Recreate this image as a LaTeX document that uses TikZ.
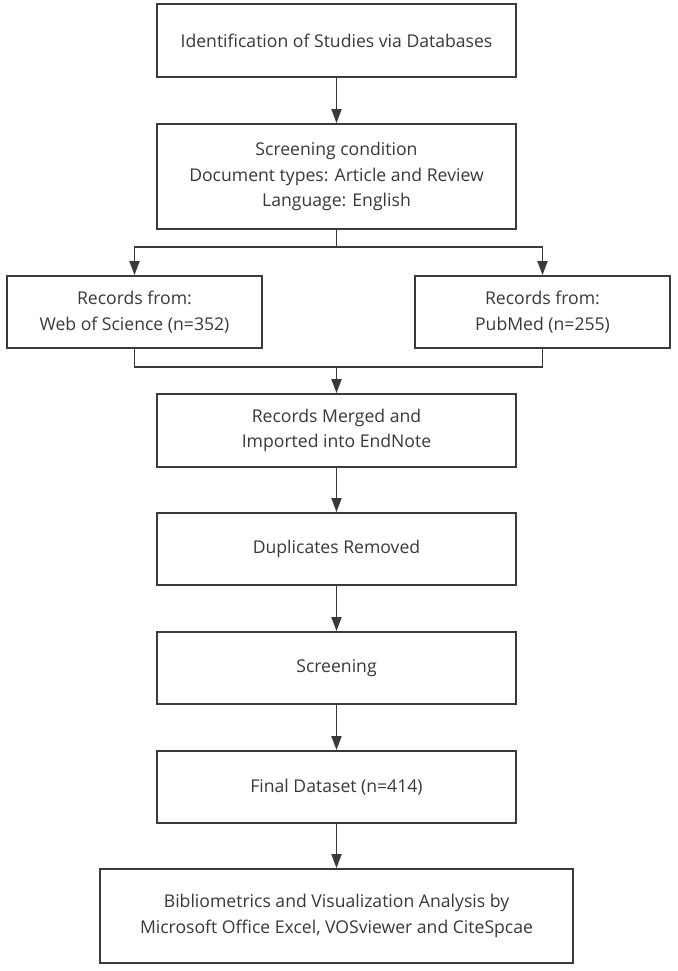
\documentclass[tikz,border=0pt]{standalone}
\usepackage{fontspec}
\setmainfont{Open Sans}
\usetikzlibrary{arrows.meta}
\definecolor{ln}{HTML}{3A3A3A}
\definecolor{tx}{HTML}{383838}
\begin{document}
\begin{tikzpicture}[x=1pt,y=-1pt,
  box/.style={draw=ln,line width=1.8pt,align=center,text=tx,inner sep=0pt,
    font=\fontsize{17.6}{25.5}\selectfont},
  conn/.style={draw=ln,line width=1.8pt},
  arr/.style={conn,-{Triangle[width=10pt,length=14pt]}}]
\useasboundingbox (0,0) rectangle (677,971);
\node[box,minimum width=359pt,minimum height=73pt] (b1) at (336.5,40.5) {Identification of Studies via Databases};
\node[box,minimum width=359pt,minimum height=105pt] (b2) at (336.5,176.5) {Screening condition\\Document types: Article and Review\\Language: English};
\node[box,minimum width=255pt,minimum height=72pt] (wos) at (134.5,312) {Records from:\\Web of Science (n=352)};
\node[box,minimum width=255pt,minimum height=72pt] (pub) at (542.5,312) {Records from:\\PubMed (n=255)};
\node[box,minimum width=359pt,minimum height=73pt] (b3) at (336.5,430.5) {Records Merged and\\Imported into EndNote};
\node[box,minimum width=359pt,minimum height=72pt] (b4) at (336.5,549) {Duplicates Removed};
\node[box,minimum width=359pt,minimum height=72pt] (b5) at (336.5,668) {Screening};
\node[box,minimum width=359pt,minimum height=72pt] (b6) at (336.5,787) {Final Dataset (n=414)};
\node[box,minimum width=473pt,minimum height=94pt] (b7) at (336.5,916) {Bibliometrics and Visualization Analysis by\\Microsoft Office Excel, VOSviewer and CiteSpcae};
\coordinate (split) at (336.5,247);
\coordinate (merge) at (336.5,367);
\draw[arr] (b1) -- (b2);
\draw[conn] (b2.south) -- (split);
\draw[arr] (split) -| (wos.north);
\draw[arr] (split) -| (pub.north);
\draw[conn] (wos.south) |- (merge) -| (pub.south);
\draw[arr] (merge) -- (b3.north);
\draw[arr] (b3) -- (b4);
\draw[arr] (b4) -- (b5);
\draw[arr] (b5) -- (b6);
\draw[arr] (b6) -- (b7);
\end{tikzpicture}
\end{document}
